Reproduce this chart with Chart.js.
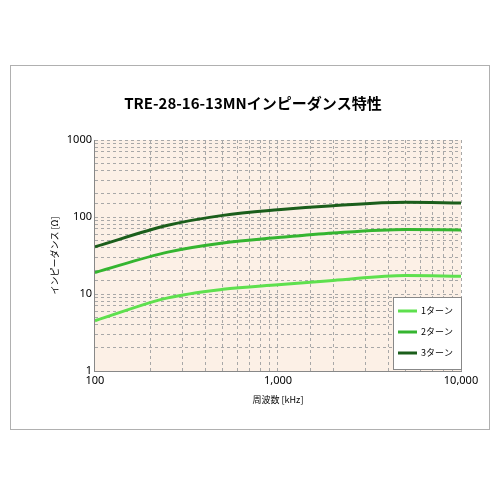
<!DOCTYPE html>
<html><head><meta charset="utf-8">
<script src="https://cdn.jsdelivr.net/npm/chart.js@4"></script>
<style>
body{margin:0;background:#fff;font-family:"Noto Sans CJK JP","Noto Sans",sans-serif;}
#box{position:absolute;left:10px;top:65px;width:478px;height:363px;border:1px solid #b0b0b0;}
</style></head><body>
<div id="box"><canvas id="c"></canvas></div>
<script>
const freqs = [100, 250, 500, 1000, 2000, 5000, 10000];
const turn1 = [4.5, 8.9, 11.5, 13.2, 15, 17.4, 17];
const turn2 = [19, 35, 46, 54, 62, 69, 68];
const turn3 = [41, 78, 105, 124, 140, 155, 152];
const labels = ['1ターン', '2ターン', '3ターン'];
const colors = ['#5ee04e', '#35b530', '#1b5e1b'];

const toPts = arr => arr.map((v, i) => ({x: freqs[i], y: v}));

const bgPlugin = {
  id: 'bg',
  beforeDraw(chart) {
    const {ctx, chartArea: a} = chart;
    ctx.save();
    ctx.fillStyle = '#fcf0e6';
    ctx.fillRect(a.left, a.top, a.right - a.left, a.bottom - a.top);
    ctx.restore();
  }
};

const legendBox = {
  id: 'legendBox',
  afterDraw(chart) {
    const {ctx, chartArea: a} = chart;
    const w = 68, h = 72, x = a.right - w, y = a.bottom - h - 2;
    ctx.save();
    ctx.fillStyle = '#fff';
    ctx.strokeStyle = '#888';
    ctx.lineWidth = 1;
    ctx.fillRect(x, y, w, h);
    ctx.strokeRect(x + 0.5, y + 0.5, w, h);
    ctx.font = '9px "Noto Sans CJK JP"';
    ctx.textBaseline = 'middle';
    chart.data.datasets.forEach((ds, i) => {
      const ly = y + 14 + i * 21;
      ctx.strokeStyle = ds.borderColor;
      ctx.lineWidth = ds.borderWidth;
      ctx.beginPath();
      ctx.moveTo(x + 5, ly);
      ctx.lineTo(x + 24, ly);
      ctx.stroke();
      ctx.fillStyle = '#000';
      ctx.fillText(ds.label, x + 28, ly);
    });
    ctx.restore();
  }
};

const tickFont = {family: 'Noto Sans', size: 11};
const isPow10 = v => Math.abs(Math.log10(v) - Math.round(Math.log10(v))) < 1e-9;

new Chart(document.getElementById('c'), {
  type: 'line',
  data: {
    datasets: [turn1, turn2, turn3].map((d, i) => ({
      label: labels[i],
      data: toPts(d),
      borderColor: colors[i],
      borderWidth: 3,
      pointRadius: 0,
      cubicInterpolationMode: 'monotone',
      fill: false
    }))
  },
  options: {
    responsive: true,
    maintainAspectRatio: false,
    animation: false,
    layout: {padding: {left: 34, right: 28, top: 10, bottom: 20}},
    plugins: {
      legend: {display: false},
      tooltip: {enabled: false},
      title: {
        display: true,
        text: 'TRE-28-16-13MNインピーダンス特性',
        font: {family: 'Noto Sans CJK JP', size: 15, weight: 'bold'},
        color: '#000',
        padding: {top: 18, bottom: 28}
      }
    },
    scales: {
      x: {
        type: 'logarithmic',
        min: 100, max: 10000,
        title: {display: true, text: '周波数 [kHz]', font: {family: 'Noto Sans CJK JP', size: 9}, color: '#000'},
        ticks: {
          autoSkip: false, maxRotation: 0, color: '#000', font: tickFont,
          callback: v => isPow10(v) ? v.toLocaleString('en-US') : ''
        },
        grid: {color: '#a8a8a8', drawTicks: false},
        border: {dash: [3, 3], color: '#888'}
      },
      y: {
        type: 'logarithmic',
        min: 1, max: 1000,
        title: {display: true, text: 'インピーダンス [Ω]', font: {family: 'Noto Sans CJK JP', size: 9}, color: '#000'},
        ticks: {
          autoSkip: false, color: '#000', font: tickFont,
          callback: v => isPow10(v) ? String(v) : ''
        },
        grid: {color: '#a8a8a8', drawTicks: false},
        border: {dash: [3, 3], color: '#888'}
      }
    }
  },
  plugins: [bgPlugin, legendBox]
});
</script>
</body></html>
